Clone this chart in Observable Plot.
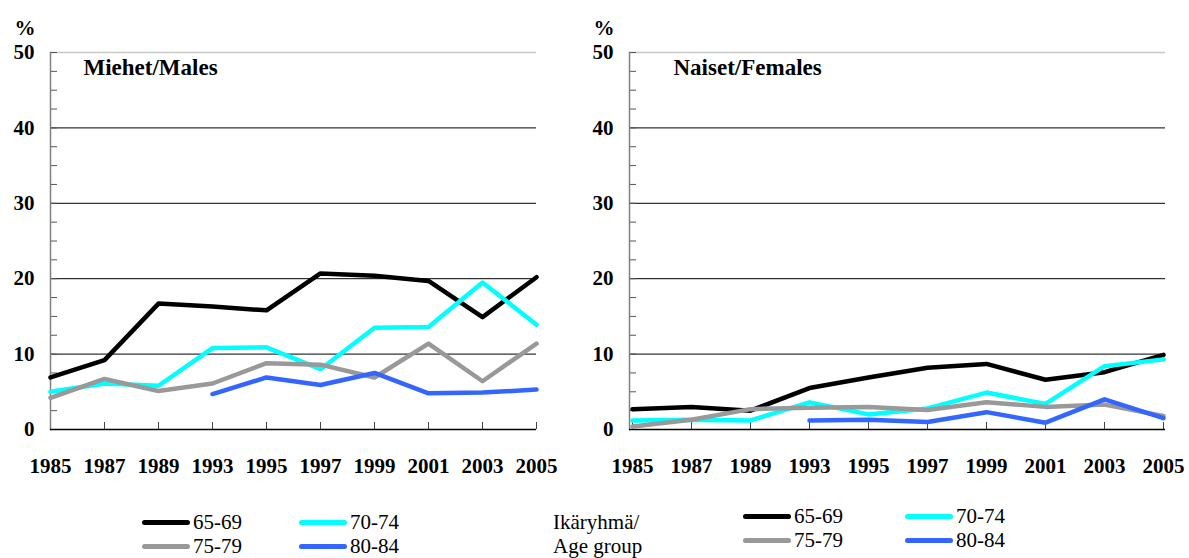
<!DOCTYPE html>
<html>
<head>
<meta charset="utf-8">
<script src="https://cdn.jsdelivr.net/npm/d3@7"></script>
<script src="https://cdn.jsdelivr.net/npm/@observablehq/plot@0.6"></script>
<style>
  html, body { margin: 0; padding: 0; background: #fff; }
  #root { position: relative; width: 1189px; height: 558px; overflow: hidden; background: #fff;
          font-family: "Liberation Serif", "DejaVu Serif", "Times New Roman", serif; color: #000; }
  .panel { position: absolute; top: 0; }
  .panel text { font-family: "Liberation Serif", "DejaVu Serif", "Times New Roman", serif; }
  .lg { position: absolute; display: flex; align-items: center; font-size: 21px; line-height: 1; white-space: nowrap; }
  .sw { display: inline-block; width: 48px; height: 5px; border-radius: 3px; margin-right: 3px; }
  .txt { position: absolute; font-size: 21px; line-height: 1; white-space: nowrap; }
</style>
</head>
<body>
<div id="root"></div>
<script>
// ---- data ----
const years = ["1985","1987","1989","1993","1995","1997","1999","2001","2003","2005"];
const groups = ["65-69","70-74","75-79","80-84"];
const colors = ["#000000","#00ffff","#999999","#3366ff"];
const yTicks = [0, 10, 20, 30, 40, 50];

const males6569 = [6.9, 9.2, 16.7, 16.3, 15.8, 20.7, 20.4, 19.7, 14.9, 20.2];
const males7074 = [5.0, 6.1, 5.8, 10.8, 10.9, 8.0, 13.5, 13.6, 19.5, 13.9];
const males7579 = [4.2, 6.7, 5.1, 6.1, 8.8, 8.6, 6.9, 11.4, 6.4, 11.4];
const males8084 = [null, null, null, 4.7, 6.9, 5.9, 7.5, 4.8, 4.9, 5.3];

const females6569 = [2.7, 3.0, 2.5, 5.5, 6.9, 8.2, 8.7, 6.6, 7.6, 9.9];
const females7074 = [1.2, 1.3, 1.2, 3.6, 2.0, 2.8, 4.9, 3.4, 8.4, 9.3];
const females7579 = [0.4, 1.3, 2.7, 2.9, 3.0, 2.6, 3.6, 3.0, 3.3, 1.8];
const females8084 = [null, null, null, 1.2, 1.3, 1.0, 2.3, 0.9, 4.0, 1.5];

const titleMales = "Miehet/Males";
const titleFemales = "Naiset/Females";
const unitLabel = "%";
const legendTitle = ["Ikäryhmä/", "Age group"];

function toRows(seriesList) {
  const rows = [];
  seriesList.forEach((vals, gi) => {
    vals.forEach((v, i) => { if (v != null) rows.push({year: years[i], group: groups[gi], value: v}); });
  });
  return rows;
}

const font = '"Liberation Serif", "DejaVu Serif", "Times New Roman", serif';

function panel({rows, title, width, marginLeft, titleDx}) {
  return Plot.plot({
    width, height: 490,
    marginLeft, marginRight: 24, marginTop: 52, marginBottom: 61,
    x: {type: "point", domain: years, padding: 0},
    y: {domain: [0, 50]},
    color: {domain: groups, range: colors},
    style: {fontFamily: font, background: "white", color: "#000", overflow: "visible"},
    marks: [
      Plot.ruleY([10, 20, 30, 40], {stroke: "#000", strokeWidth: 1}),
      Plot.ruleY([50], {stroke: "#c8c8c8", strokeWidth: 1.5}),
      Plot.axisY({ticks: d3.range(0, 50.01, 2.5), tickSize: 7, dx: 7, text: null, stroke: "#555", label: null}),
      Plot.axisY({ticks: yTicks, tickSize: 0, tickPadding: 16, fontSize: 21, fontWeight: "bold", fill: "#000", label: null, fontFamily: font}),
      Plot.axisX({tickSize: 7, dy: -7, text: null, stroke: "#444", label: null}),
      Plot.axisX({tickSize: 0, tickPadding: 29, fontSize: 21, fontWeight: "bold", fill: "#000", label: null, fontFamily: font}),
      Plot.frame({anchor: "left", stroke: "#808080", strokeWidth: 1.5}),
      Plot.ruleY([0], {stroke: "#000", strokeWidth: 1.5}),
      Plot.line(rows, {x: "year", y: "value", z: "group", stroke: "group", strokeWidth: 4.5, strokeLinecap: "round", strokeLinejoin: "round"}),
      Plot.text([title], {frameAnchor: "top-left", dx: titleDx, dy: 15, fontSize: 23, fontWeight: "bold", textAnchor: "start", lineAnchor: "middle", fill: "#000", fontFamily: font}),
      Plot.text([unitLabel], {frameAnchor: "top-left", dx: -36, dy: -24, fontSize: 21, fontWeight: "bold", textAnchor: "start", lineAnchor: "middle", fill: "#000", fontFamily: font})
    ]
  });
}

const root = document.getElementById("root");

const left = panel({rows: toRows([males6569, males7074, males7579, males8084]), title: titleMales, width: 560, marginLeft: 50, titleDx: 33});
left.classList.add("panel"); left.style.left = "0px";
root.appendChild(left);

const right = panel({rows: toRows([females6569, females7074, females7579, females8084]), title: titleFemales, width: 609, marginLeft: 49, titleDx: 44});
right.classList.add("panel"); right.style.left = "580px";
root.appendChild(right);

function legend(x0, y0, colGap) {
  groups.forEach((g, i) => {
    const d = document.createElement("div");
    d.className = "lg";
    d.style.left = (x0 + (i % 2) * colGap) + "px";
    d.style.top = (y0 + Math.floor(i / 2) * 24 - 11) + "px";
    d.style.height = "22px";
    const s = document.createElement("span");
    s.className = "sw"; s.style.background = colors[i];
    d.appendChild(s);
    d.appendChild(document.createTextNode(g));
    root.appendChild(d);
  });
}
legend(142, 522, 157);
legend(743, 516, 162);

legendTitle.forEach((t, i) => {
  const d = document.createElement("div");
  d.className = "txt";
  d.style.left = "553px";
  d.style.top = (512 + i * 24) + "px";
  d.textContent = t;
  root.appendChild(d);
});
</script>
</body>
</html>
